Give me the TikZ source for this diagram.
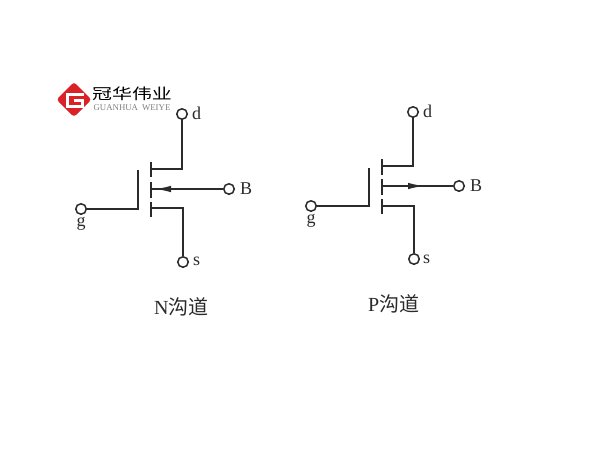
\documentclass[tikz,border=0pt]{standalone}
\usepackage{fontspec}
\setmainfont{Liberation Serif}
\newfontfamily\cjk{Noto Sans CJK SC}
\usetikzlibrary{arrows.meta}
\definecolor{ink}{HTML}{2B2B2B}
\definecolor{logored}{HTML}{DB2128}
\tikzset{
  x=1pt,y=-1pt,
  termcircle/.style={circle,draw=ink,line width=1.5pt,fill=white,minimum size=10.5pt,inner sep=0pt},
  wire/.style={draw=ink,line width=1.5pt},
  gatebar/.style={draw=ink,line width=2.2pt},
  lbl/.style={text=ink,font=\fontsize{18}{18}\selectfont,inner sep=0pt},
  captext/.style={text=ink,font=\fontsize{20}{20}\selectfont,inner sep=0pt},
  arrowtip/.style={-{Latex[length=16pt,width=6.5pt]}}
}
\begin{document}
\begin{tikzpicture}
\useasboundingbox (0,0) rectangle (600,450);
\fill[white] (0,0) rectangle (600,450);
% logo
\fill[logored,rounded corners=3pt] (74,82) -- (91.5,99.5) -- (74,117) -- (56.5,99.5) -- cycle;
\draw[white,line width=3pt] (84,94) -- (67.5,94) -- (67.5,106.5) -- (82,106.5) -- (82,100.5) -- (74,100.5);
\node[inner sep=0pt,text=black,font=\cjk\fontsize{15}{15}\selectfont] (brand) at (132,93.5) {\scalebox{1.33}[1]{冠华伟业}};
\node[inner sep=0pt,text=gray,font=\fontsize{8.8}{9}\selectfont] (brandlatin) at (132,108) {GUANHUA\hspace{4pt}WEIYE};
% N channel
\node[termcircle] (nd) at (182,114) {};
\node[termcircle] (nb) at (229,189) {};
\node[termcircle] (ng) at (81,209) {};
\node[termcircle] (ns) at (183,262) {};
\coordinate (ndc) at (151,169);
\coordinate (nbc) at (151,189);
\coordinate (nsc) at (151,208);
\coordinate (ngc) at (138,209);
\draw[gatebar] (151,162) -- (151,177);
\draw[gatebar] (151,182) -- (151,198);
\draw[gatebar] (151,202) -- (151,217);
\draw[gatebar] (138,170) -- (138,209.5);
\draw[wire] (nd) -- (182,169) -- (ndc);
\draw[wire] (ns) -- (183,208) -- (nsc);
\draw[wire] (ng) -- (ngc);
\draw[wire] (nb) -- (nbc);
\draw[wire,arrowtip] (175,189) -- (155,189);
\node[lbl,anchor=west] (ndl) at (192,113) {d};
\node[lbl,anchor=west] (nbl) at (240,189) {B};
\node[lbl] (ngl) at (81,224) {g};
\node[lbl,anchor=west] (nsl) at (193,261) {s};
\node[captext,anchor=west] (ncap) at (154,307) {N\cjk 沟道};
% P channel
\node[termcircle] (pd) at (413,112) {};
\node[termcircle] (pb) at (459,186) {};
\node[termcircle] (pg) at (311,206) {};
\node[termcircle] (ps) at (414,259) {};
\coordinate (pdc) at (382,166);
\coordinate (pbc) at (382,186);
\coordinate (psc) at (382,206);
\coordinate (pgc) at (369,206);
\draw[gatebar] (382,159) -- (382,175);
\draw[gatebar] (382,179) -- (382,195);
\draw[gatebar] (382,199) -- (382,214);
\draw[gatebar] (369,168) -- (369,207);
\draw[wire] (pd) -- (413,166) -- (pdc);
\draw[wire] (ps) -- (414,206) -- (psc);
\draw[wire] (pg) -- (pgc);
\draw[wire] (pb) -- (pbc);
\draw[wire,arrowtip] (408,186) -- (424,186);
\node[lbl,anchor=west] (pdl) at (423,111) {d};
\node[lbl,anchor=west] (pbl) at (470,186) {B};
\node[lbl] (pgl) at (311,221) {g};
\node[lbl,anchor=west] (psl) at (423,259) {s};
\node[captext,anchor=west] (pcap) at (368,304) {P\cjk 沟道};
\end{tikzpicture}
\end{document}
